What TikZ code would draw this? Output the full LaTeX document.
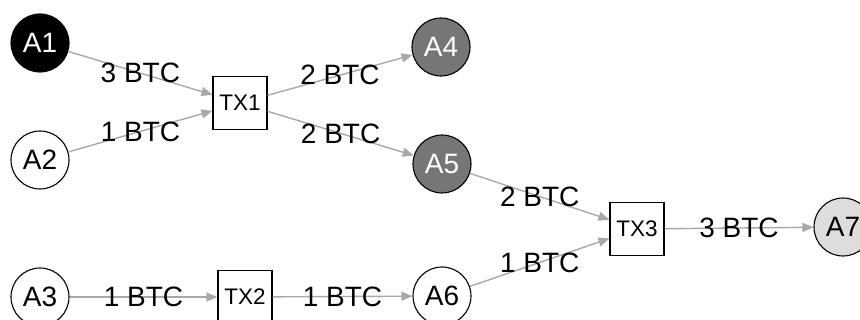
\documentclass[tikz,border=0pt]{standalone}
\usepackage{fontspec}
\setmainfont{Liberation Sans}
\usetikzlibrary{arrows.meta}
\definecolor{edgegray}{HTML}{A8A8A8}
\definecolor{midgray}{HTML}{767676}
\definecolor{lightgray}{HTML}{DDDDDD}
\begin{document}
\begin{tikzpicture}[x=1pt,y=-1pt,
  addr/.style={circle,draw=black,line width=1.1pt,minimum size=58pt,inner sep=0pt,
    font=\fontsize{28}{30}\selectfont},
  tx/.style={rectangle,draw=black,line width=1.1pt,minimum width=54pt,minimum height=53pt,
    inner sep=0pt,font=\fontsize{22.5}{25}\selectfont},
  flow/.style={draw=edgegray,line width=1.4pt,-{Triangle[length=11pt,width=9pt]}},
  amt/.style={font=\fontsize{28}{30}\selectfont,inner sep=0pt,text=black}]
\clip (0,0) rectangle (860,320);
\useasboundingbox (0,0) rectangle (860,320);

% addresses
\node[addr,fill=black,text=white] (a1) at (40,43) {A1};
\node[addr,fill=white] (a2) at (40,160) {A2};
\node[addr,fill=white] (a3) at (40,297) {A3};
\node[addr,fill=midgray,text=white] (a4) at (441,47) {A4};
\node[addr,fill=midgray,text=white] (a5) at (442,164) {A5};
\node[addr,fill=white] (a6) at (442,296) {A6};
\node[addr,fill=lightgray] (a7) at (843,227) {A7};

% transactions
\node[tx] (tx1) at (240,103) {TX1};
\node[tx] (tx2) at (245,297) {TX2};
\node[tx] (tx3) at (637,229) {TX3};

% value flows
\draw[flow] (a1) -- node[amt] {3 BTC} (tx1);
\draw[flow] (a2) -- node[amt] {1 BTC} (tx1);
\draw[flow] (tx1) -- node[amt] {2 BTC} (a4);
\draw[flow] (tx1) -- node[amt] {2 BTC} (a5);
\draw[flow] (a3) -- node[amt] {1 BTC} (tx2);
\draw[flow] (tx2) -- node[amt] {1 BTC} (a6);
\draw[flow] (a5) -- node[amt] {2 BTC} (tx3);
\draw[flow] (a6) -- node[amt] {1 BTC} (tx3);
\draw[flow] (tx3) -- node[amt] {3 BTC} (a7);
\end{tikzpicture}
\end{document}
